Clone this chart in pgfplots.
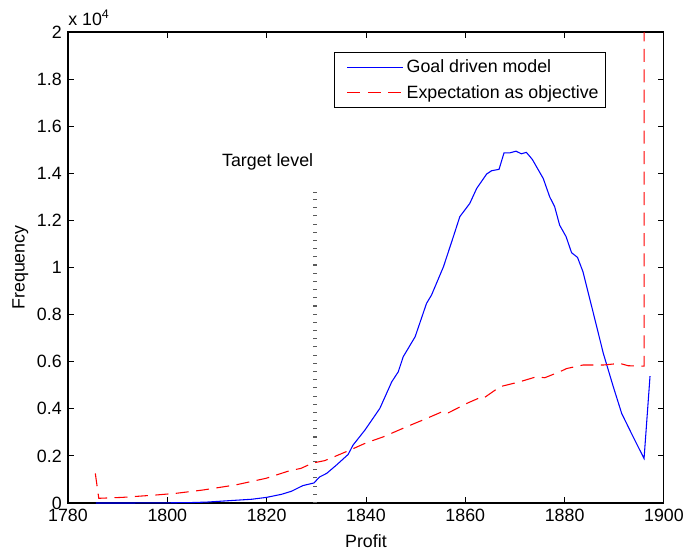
\documentclass[border=0pt]{standalone}
\usepackage{fontspec}
\setmainfont{Liberation Sans}
\usepackage{pgfplots}
\pgfplotsset{compat=1.18}
\begin{document}
\begin{tikzpicture}
\begin{axis}[
  scale only axis,
  width=334.8pt, height=264.6pt,
  at={(0,0)}, anchor=south west,
  xmin=1780, xmax=1900, ymin=0, ymax=20000,
  xtick={1780,1800,...,1900},
  ytick={0,2000,...,20000},
  yticklabels={0,0.2,0.4,0.6,0.8,1,1.2,1.4,1.6,1.8,2},
  scaled y ticks=false,
  /pgf/number format/assume math mode=true,
  /pgf/number format/set thousands separator={},
  tick align=inside,
  major tick length=3.4pt,
  tick style={black, line width=0.5pt},
  axis line style={line width=0.6pt},
  ticklabel style={font=\fontsize{10}{12}\selectfont},
  xlabel={Profit}, ylabel={Frequency},
  label style={font=\fontsize{10}{12}\selectfont},
  xlabel style={yshift=0pt},
  ylabel style={yshift=-2pt},
  legend style={at={(rel axis cs:0.903,0.957)}, anchor=north east,
    fill=white, font=\fontsize{10}{12}\selectfont,
    inner sep=2pt, row sep=1.5pt, cells={anchor=west}},
  legend cell align=left,
  legend image code/.code={\draw[#1] (0pt,0pt) -- (31pt,0pt); \path (-5pt,0pt) circle (0pt);},
]
\addplot[blue, line width=0.6pt] coordinates {
(1785.6,0) (1790,0) (1795,3) (1800,8) (1805,20) (1808,40) (1811,80)
(1814,120) (1817,160) (1820,240) (1823,370) (1825,500) (1827.3,740)
(1829.5,850) (1830.7,1110) (1832.1,1260) (1834.1,1620) (1836.4,2060)
(1837.4,2460) (1839.8,3100) (1842.8,4020) (1845.2,5150) (1846.5,5570)
(1847.5,6210) (1849.9,7060) (1852.2,8480) (1853.2,8830) (1855.6,10030)
(1857.6,11310) (1858.9,12160) (1860.9,12720) (1862.3,13360) (1864.3,13970)
(1865.3,14110) (1866.8,14170) (1867.8,14870) (1869.0,14870) (1870.2,14940)
(1871.3,14830) (1872.3,14890) (1873.5,14590) (1875.7,13780) (1877.0,13000)
(1878.0,12580) (1879.0,11800) (1880.3,11310) (1881.4,10630) (1882.6,10430)
(1883.7,9820) (1885.8,8050) (1887.8,6350) (1889.8,4940) (1891.5,3800)
(1893.8,2810) (1896.0,1890) (1897.2,5390)
};
\addlegendentry{Goal driven model}
\addplot[red, line width=0.6pt, dash pattern=on 7.3pt off 4.2pt] coordinates {
(1785.5,1260) (1786.2,200) (1791.0,240) (1797.7,340) (1801.7,410)
(1807.1,550) (1813.8,770) (1819.9,1050) (1824.6,1370) (1826.9,1470)
(1829.3,1700) (1831.7,1800) (1834,2000) (1836.8,2250) (1840.1,2560)
(1843.5,2810) (1848.2,3240) (1852.2,3590) (1855.6,3900) (1856.6,3830)
(1860.3,4230) (1862.9,4470) (1863.6,4440) (1867.0,4940) (1871.0,5150)
(1874.3,5360) (1876.0,5320) (1879.0,5570) (1880.4,5710) (1883.7,5860)
(1887.8,5860) (1891.1,5930) (1892.8,5830) (1896.0,5810) (1896.0,60000)
};
\addlegendentry{Expectation as objective}
\addplot[black!65, line width=2.3pt, dash pattern=on 0.6pt off 4.0pt, forget plot]
  coordinates {(1829.8,0) (1829.8,13220)};
\node[font=\fontsize{10}{12}\selectfont] at (axis cs:1820.2,14490) {Target level};
\end{axis}
\node[anchor=south west, inner sep=0pt, font=\fontsize{10}{12}\selectfont]
  at (0pt,268pt) {x 10\textsuperscript{4}};
\pgfresetboundingbox
\path (-38.2pt,-27.0pt) rectangle (347.2pt,282.6pt);
\end{tikzpicture}
\end{document}
